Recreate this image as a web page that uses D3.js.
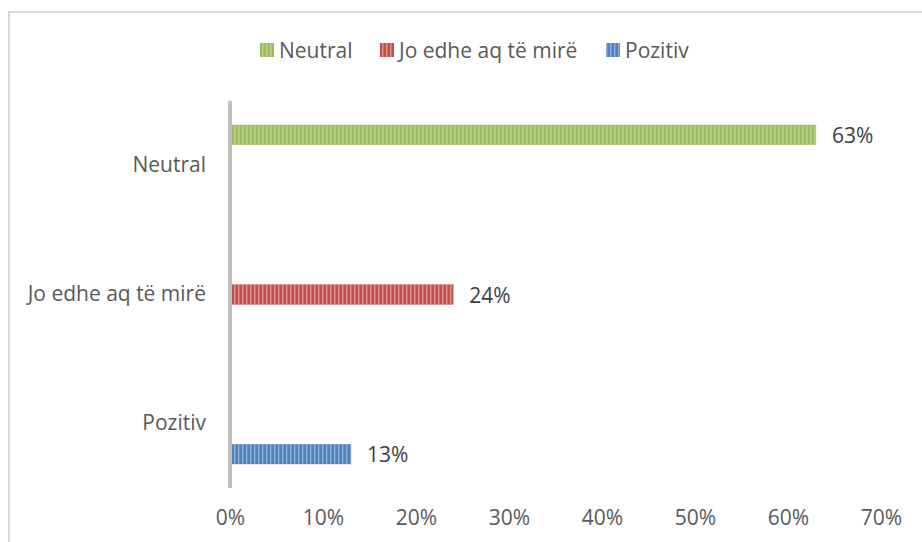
<!DOCTYPE html>
<html><head><meta charset="utf-8">
<script src="https://cdn.jsdelivr.net/npm/d3@7"></script>
<style>html,body{margin:0;padding:0;background:#fff;}svg{display:block;}</style>
</head><body>
<svg id="chart" width="922" height="542"></svg>
<script>
const categories = ["Neutral", "Jo edhe aq të mirë", "Pozitiv"];
const seriesNames = ["Neutral", "Jo edhe aq të mirë", "Pozitiv"];
const neutralValues = [63, null, null];
const joEdheValues = [null, 24, null];
const pozitivValues = [null, null, 13];
const xTicks = [0, 10, 20, 30, 40, 50, 60, 70];
const seriesColors = [
  {base: "#9bbb59", light: "#bcd38f", dark: "#8aab4a"},
  {base: "#c0504d", light: "#dc8e8c", dark: "#b2403d"},
  {base: "#4f81bd", light: "#8caed8", dark: "#41719f"}
];
const seriesValues = [neutralValues, joEdheValues, pozitivValues];

const svg = d3.select("#chart");
const font = "'Open Sans', sans-serif";
const textColor = "#595959";
const fs = 21;

// frame
svg.append("rect").attr("x", 9).attr("y", 12).attr("width", 940).attr("height", 560)
  .attr("fill", "#fff").attr("stroke", "#d9d9d9").attr("stroke-width", 2);

// patterns
const defs = svg.append("defs");
seriesColors.forEach((c, i) => {
  const p = defs.append("pattern").attr("id", "pat" + i).attr("patternUnits", "userSpaceOnUse")
    .attr("width", 4).attr("height", 40);
  p.append("rect").attr("width", 4).attr("height", 40).attr("fill", c.base);
  p.append("rect").attr("x", 2).attr("width", 1).attr("height", 40).attr("fill", c.light);
  p.append("rect").attr("x", 3).attr("width", 1).attr("height", 40).attr("fill", c.light).attr("opacity", 0.5);
});

const x = d3.scaleLinear().domain([0, 70]).range([230, 881]);
const y = d3.scaleBand().domain(categories).range([101, 488]);
const inner = d3.scaleBand().domain(seriesNames).range([y.bandwidth()/2 - 46, y.bandwidth()/2 + 46]).paddingInner(0.36).paddingOuter(0.18);

// bars
categories.forEach((cat, ci) => {
  seriesNames.forEach((s, si) => {
    const v = seriesValues[si][ci];
    if (v == null) return;
    const by = y(cat) + inner(s);
    svg.append("rect").attr("x", x(0)).attr("y", by)
      .attr("width", x(v) - x(0)).attr("height", inner.bandwidth())
      .attr("fill", "url(#pat" + si + ")");
    svg.append("rect").attr("x", x(0)).attr("y", by).attr("width", x(v) - x(0)).attr("height", inner.bandwidth())
      .attr("fill", "none").attr("stroke", seriesColors[si].dark).attr("stroke-width", 0.6).attr("opacity", 0.6);
    svg.append("text").attr("x", x(v) + 16).attr("y", by + inner.bandwidth()/2)
      .attr("dominant-baseline", "central").attr("font-family", font).attr("font-size", fs)
      .attr("fill", "#404040").text(v + "%");
  });
});

// vertical axis line
svg.append("line").attr("x1", x(0)).attr("x2", x(0)).attr("y1", 101).attr("y2", 488)
  .attr("stroke", "#bfbfbf").attr("stroke-width", 4);

// category labels
const yAxis = d3.axisLeft(y).tickSize(0).tickPadding(0);
const yg = svg.append("g").attr("transform", "translate(206,0)").call(yAxis);
yg.select(".domain").remove();
yg.selectAll("text").attr("font-family", font).attr("font-size", fs).attr("fill", textColor);

// x tick labels
const xAxis = d3.axisBottom(x).tickValues(xTicks).tickFormat(d => d + "%").tickSize(0).tickPadding(0);
const xg = svg.append("g").attr("transform", "translate(0,510)").call(xAxis);
xg.select(".domain").remove();
xg.selectAll("text").attr("font-family", font).attr("font-size", fs).attr("fill", textColor);

// legend
const legendX = [260, 380, 606];
seriesNames.forEach((s, i) => {
  svg.append("rect").attr("x", legendX[i]).attr("y", 43).attr("width", 14).attr("height", 14)
    .attr("fill", "url(#pat" + i + ")");
  svg.append("text").attr("x", legendX[i] + 19).attr("y", 50).attr("dominant-baseline", "central")
    .attr("font-family", font).attr("font-size", fs).attr("fill", textColor).text(s);
});
</script>
</body></html>
